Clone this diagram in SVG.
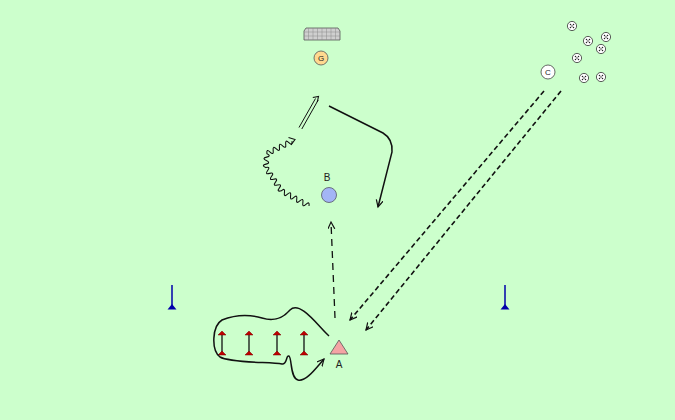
<svg xmlns="http://www.w3.org/2000/svg" width="675" height="420" viewBox="0 0 675 420">
<style>
.lbl{font-family:"Liberation Sans",Arial,sans-serif;font-size:10px;fill:#222;text-anchor:middle}
.sm{font-family:"Liberation Sans",Arial,sans-serif;font-size:8px;fill:#222;text-anchor:middle}
.run{fill:none;stroke:#111;stroke-width:1.5}
.dash{fill:none;stroke:#111;stroke-width:1.6;stroke-dasharray:5,3}
.dash2{fill:none;stroke:#111;stroke-width:1.3;stroke-dasharray:7,5}
.cone{fill:#c00000;stroke:#7a0000;stroke-width:0.5}
.flag{stroke:#0000aa;stroke-width:1.5}
</style>
<defs>
<marker id="open" markerUnits="userSpaceOnUse" markerWidth="10" markerHeight="10" refX="7" refY="3.5" orient="auto">
<path d="M0,0 L7,3.5 L0,7" fill="none" stroke="#111" stroke-width="1.2"/>
</marker>
<g id="ball">
<circle r="4.6" fill="#fff" stroke="#333" stroke-width="0.8"/>
<circle cx="-1.5" cy="-1.5" r="0.75" fill="#222"/>
<circle cx="1.5" cy="-1.5" r="0.75" fill="#222"/>
<circle cx="0" cy="0" r="0.75" fill="#222"/>
<circle cx="-1.5" cy="1.5" r="0.75" fill="#222"/>
<circle cx="1.5" cy="1.5" r="0.75" fill="#222"/>
</g>
<g id="hurdle">
<line x1="0" y1="334" x2="0" y2="353" stroke="#111" stroke-width="1.3"/>
<path class="cone" d="M-4,335 L0,331 L4,335 Z"/>
<path class="cone" d="M-4,355 L0,351 L4,355 Z"/>
</g>
</defs>
<rect width="675" height="420" fill="#ccffcc"/>

<g id="goal">
<path d="M304,40 L304,31 L306,28 L338,28 L340,31 L340,40 Z" fill="#cfcfcf" stroke="#555" stroke-width="0.8"/>
<path d="M308.5,28V40M313,28V40M317.5,28V40M322,28V40M326.5,28V40M331,28V40M335.5,28V40M304,32H340M304,36H340" stroke="#8a8a8a" stroke-width="0.5" fill="none"/>
</g>
<g id="node-G">
<circle cx="321" cy="58" r="7" fill="#ffd98f" stroke="#555" stroke-width="0.8"/>
<text class="sm" x="321" y="61">G</text>
</g>
<g id="node-C">
<circle cx="548" cy="72" r="7" fill="#fff" stroke="#444" stroke-width="0.8"/>
<text class="sm" x="548" y="75">C</text>
</g>
<g id="balls">
<use href="#ball" x="572" y="26"/>
<use href="#ball" x="588" y="41"/>
<use href="#ball" x="606" y="37"/>
<use href="#ball" x="601" y="49"/>
<use href="#ball" x="577" y="58"/>
<use href="#ball" x="584" y="78"/>
<use href="#ball" x="601" y="77"/>
</g>
<g id="node-B">
<circle cx="329" cy="195" r="7.5" fill="#a3b5f5" stroke="#556" stroke-width="0.8"/>
<text class="lbl" x="327" y="181">B</text>
</g>
<g id="node-A">
<path d="M330,354 L339,340 L348,354 Z" fill="#f4a4a4" stroke="#555" stroke-width="0.8"/>
<text class="lbl" x="339" y="368">A</text>
</g>
<g id="flag-left">
<line class="flag" x1="172" y1="285" x2="172" y2="307"/>
<path d="M167.5,309.5 L172,304 L176.5,309.5 Z" fill="#0000aa"/>
</g>
<g id="flag-right">
<line class="flag" x1="505" y1="285" x2="505" y2="307"/>
<path d="M500.5,309.5 L505,304 L509.5,309.5 Z" fill="#0000aa"/>
</g>
<g id="hurdles">
<use href="#hurdle" x="222"/>
<use href="#hurdle" x="249"/>
<use href="#hurdle" x="277"/>
<use href="#hurdle" x="304"/>
</g>

<g id="connectors">
<path class="dash" d="M544,91 L350,320" marker-end="url(#open)"/>
<path class="dash" d="M561,91 L366,330" marker-end="url(#open)"/>
<path class="dash2" d="M335,318 L331,222" marker-end="url(#open)"/>
<path class="run" d="M329,106 L383,133 Q393,139 392,152 L378,207" marker-end="url(#open)"/>
<path class="run" d="M329,336 C318,326 300,300 290,310 C283,318 275,322 262,318 C245,313 232,316 222,320 C212,326 211,350 220,357 C230,363 270,362 282,364 C287,365 286,355 289,356 C292,358 290,378 298,380 C306,382 316,368 324,359" marker-end="url(#open)"/>
<path fill="none" stroke="#111" stroke-width="1.1" d="M309,206 q0.88,-5.23 -3.07,-1.69 t-3.07,-1.69 t-3.07,-1.69 t-3.07,-1.69 t-3.07,-1.69 t-3.07,-1.69 t-3.07,-1.69 t-3.07,-1.69 t-3.07,-1.69 q-5.13,1.35 -1.96,-2.9 t-1.96,-2.9 t-1.96,-2.9 t-1.96,-2.9 t-1.96,-2.9 t-1.96,-2.9 t-1.96,-2.9 t-1.96,-2.9 q-4.83,-2.2 0.31,-3.49 t0.31,-3.49 t0.31,-3.49 t0.31,-3.49 q-0.68,-5.26 3.13,-1.57 t3.13,-1.57 t3.13,-1.57 t3.13,-1.57 t3.13,-1.57 t3.13,-1.57 t3.13,-1.57 t3.13,-1.57"/>
<path fill="none" stroke="#111" stroke-width="1.1" d="M288.5,137.5 L295,139.5 L291,145"/>
<path fill="none" stroke="#111" stroke-width="1" d="M299,127.5 L315.5,98.5 M301.8,129 L318.2,100"/>
<path fill="none" stroke="#111" stroke-width="1.1" d="M312.8,97.5 L318.5,96.5 L317.3,102"/>
</g>
</svg>
